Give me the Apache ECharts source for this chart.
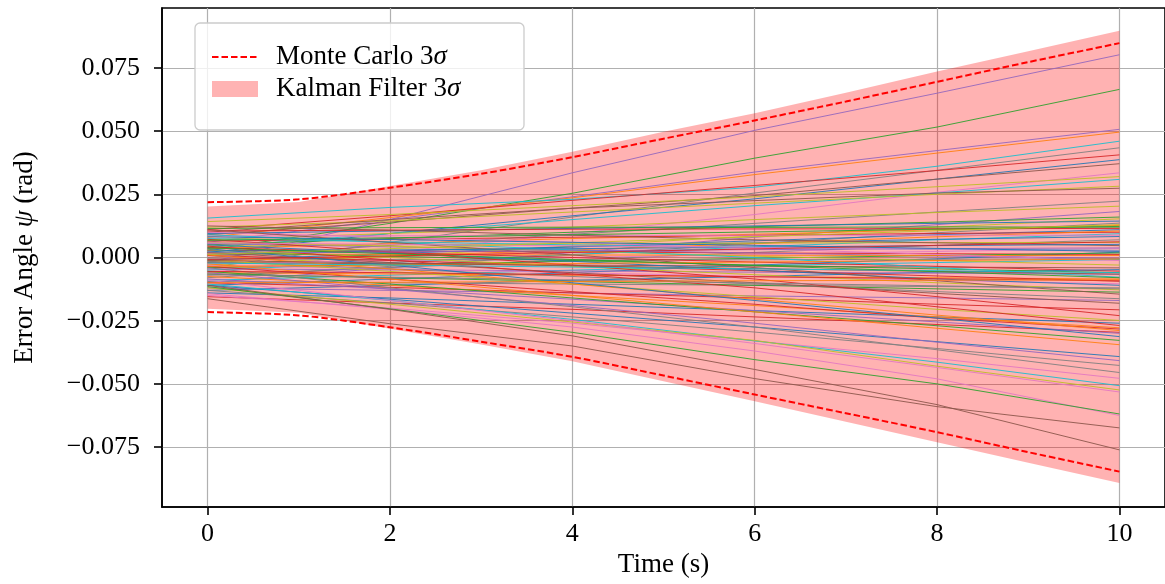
<!DOCTYPE html>
<html>
<head>
    <meta charset="UTF-8">
    <title>Error Angle Monte Carlo</title>
    <script src="https://cdn.jsdelivr.net/npm/echarts@6.0.0/dist/echarts.min.js"></script>
    <style>
        html, body { margin: 0; padding: 0; background: #fff; }
        #main { width: 1165px; height: 584px; }
    </style>
</head>
<body>
<div id="main"></div>
<script>
    // time samples of each Monte Carlo run (s)
    var runTimes = [0, 2, 4, 6, 8, 10];

    // error angle psi (rad) of every run, read at runTimes
    var mcRuns = [
        [-0.0020, 0.0150, 0.0335, 0.0503, 0.0650, 0.0802],
        [0.0030, 0.0135, 0.0254, 0.0393, 0.0516, 0.0665],
        [0.0060, 0.0150, 0.0240, 0.0338, 0.0423, 0.0507],
        [0.0080, 0.0158, 0.0236, 0.0328, 0.0413, 0.0496],
        [0.0156, 0.0198, 0.0230, 0.0278, 0.0361, 0.0460],
        [-0.0040, 0.0060, 0.0160, 0.0255, 0.0345, 0.0434],
        [0.0110, 0.0165, 0.0226, 0.0285, 0.0344, 0.0406],
        [0.0020, 0.0095, 0.0165, 0.0232, 0.0310, 0.0387],
        [0.0090, 0.0140, 0.0195, 0.0245, 0.0310, 0.0371],
        [-0.0060, 0.0020, 0.0095, 0.0170, 0.0258, 0.0335],
        [0.0142, 0.0170, 0.0205, 0.0240, 0.0280, 0.0320],
        [0.0040, 0.0095, 0.0150, 0.0205, 0.0255, 0.0309],
        [0.0120, 0.0145, 0.0180, 0.0215, 0.0250, 0.0282],
        [0.0100, 0.0150, 0.0195, 0.0225, 0.0255, 0.0274],
        [0.0000, 0.0048, 0.0092, 0.0135, 0.0180, 0.0223],
        [0.0070, 0.0095, 0.0120, 0.0150, 0.0178, 0.0203],
        [-0.0100, -0.0040, 0.0020, 0.0080, 0.0130, 0.0182],
        [0.0050, 0.0075, 0.0100, 0.0122, 0.0140, 0.0160],
        [-0.0030, 0.0005, 0.0045, 0.0085, 0.0120, 0.0153],
        [0.0095, 0.0105, 0.0115, 0.0125, 0.0135, 0.0144],
        [-0.0080, -0.0035, 0.0010, 0.0055, 0.0098, 0.0136],
        [0.0035, 0.0055, 0.0075, 0.0092, 0.0110, 0.0127],
        [0.0115, 0.0118, 0.0120, 0.0119, 0.0121, 0.0120],
        [-0.0010, 0.0015, 0.0042, 0.0066, 0.0090, 0.0110],
        [0.0065, 0.0072, 0.0080, 0.0088, 0.0095, 0.0100],
        [-0.0050, -0.0020, 0.0012, 0.0042, 0.0070, 0.0094],
        [0.0010, 0.0025, 0.0042, 0.0058, 0.0072, 0.0083],
        [0.0105, 0.0108, 0.0112, 0.0113, 0.0114, 0.0115],
        [-0.0015, 0.0005, 0.0030, 0.0055, 0.0082, 0.0105],
        [0.0085, 0.0086, 0.0087, 0.0088, 0.0088, 0.0088],
        [-0.0070, -0.0040, -0.0010, 0.0020, 0.0048, 0.0070],
        [0.0045, 0.0050, 0.0054, 0.0057, 0.0059, 0.0060],
        [0.0125, 0.0108, 0.0088, 0.0070, 0.0058, 0.0047],
        [-0.0025, -0.0012, 0.0000, 0.0012, 0.0024, 0.0035],
        [0.0075, 0.0062, 0.0050, 0.0040, 0.0033, 0.0028],
        [-0.0110, -0.0085, -0.0060, -0.0030, -0.0005, 0.0021],
        [0.0028, 0.0025, 0.0022, 0.0018, 0.0015, 0.0012],
        [0.0055, 0.0042, 0.0030, 0.0018, 0.0006, -0.0003],
        [-0.0040, -0.0028, -0.0015, -0.0003, 0.0008, 0.0018],
        [0.0015, 0.0012, 0.0010, 0.0009, 0.0008, 0.0008],
        [-0.0090, -0.0070, -0.0050, -0.0032, -0.0020, -0.0008],
        [0.0100, 0.0080, 0.0060, 0.0035, 0.0012, -0.0012],
        [-0.0005, -0.0008, -0.0010, -0.0009, -0.0007, -0.0005],
        [0.0060, 0.0045, 0.0025, 0.0005, -0.0012, -0.0030],
        [-0.0020, -0.0025, -0.0030, -0.0034, -0.0038, -0.0041],
        [0.0040, 0.0020, 0.0000, -0.0018, -0.0035, -0.0054],
        [-0.0130, -0.0110, -0.0090, -0.0075, -0.0058, -0.0048],
        [0.0020, 0.0005, -0.0012, -0.0030, -0.0045, -0.0060],
        [-0.0045, -0.0049, -0.0053, -0.0058, -0.0062, -0.0066],
        [0.0090, 0.0060, 0.0030, 0.0000, -0.0040, -0.0078],
        [-0.0060, -0.0065, -0.0070, -0.0076, -0.0080, -0.0085],
        [0.0008, -0.0012, -0.0032, -0.0052, -0.0073, -0.0094],
        [-0.0030, -0.0045, -0.0060, -0.0075, -0.0090, -0.0104],
        [0.0050, 0.0018, -0.0015, -0.0050, -0.0085, -0.0110],
        [-0.0095, -0.0100, -0.0105, -0.0110, -0.0115, -0.0120],
        [0.0030, 0.0000, -0.0035, -0.0068, -0.0100, -0.0128],
        [-0.0065, -0.0080, -0.0095, -0.0110, -0.0124, -0.0137],
        [0.0110, 0.0060, 0.0010, -0.0040, -0.0092, -0.0145],
        [-0.0015, -0.0045, -0.0075, -0.0105, -0.0135, -0.0163],
        [-0.0120, -0.0130, -0.0140, -0.0152, -0.0160, -0.0170],
        [0.0020, -0.0020, -0.0060, -0.0100, -0.0142, -0.0181],
        [-0.0100, -0.0118, -0.0140, -0.0160, -0.0185, -0.0207],
        [0.0072, 0.0022, -0.0030, -0.0085, -0.0155, -0.0230],
        [-0.0010, -0.0055, -0.0105, -0.0155, -0.0205, -0.0249],
        [-0.0140, -0.0160, -0.0185, -0.0210, -0.0235, -0.0260],
        [0.0045, -0.0010, -0.0065, -0.0120, -0.0195, -0.0269],
        [-0.0075, -0.0110, -0.0150, -0.0190, -0.0235, -0.0278],
        [-0.0035, -0.0085, -0.0135, -0.0185, -0.0240, -0.0283],
        [0.0010, -0.0045, -0.0105, -0.0165, -0.0228, -0.0289],
        [-0.0155, -0.0180, -0.0205, -0.0235, -0.0265, -0.0296],
        [-0.0085, -0.0125, -0.0165, -0.0210, -0.0255, -0.0300],
        [0.0035, -0.0030, -0.0100, -0.0170, -0.0240, -0.0313],
        [-0.0055, -0.0105, -0.0160, -0.0215, -0.0270, -0.0328],
        [-0.0025, -0.0085, -0.0150, -0.0215, -0.0280, -0.0345],
        [-0.0110, -0.0165, -0.0220, -0.0275, -0.0333, -0.0392],
        [-0.0060, -0.0125, -0.0190, -0.0260, -0.0335, -0.0408],
        [-0.0130, -0.0180, -0.0235, -0.0295, -0.0360, -0.0427],
        [-0.0040, -0.0120, -0.0195, -0.0275, -0.0365, -0.0455],
        [-0.0150, -0.0200, -0.0260, -0.0330, -0.0400, -0.0478],
        [-0.0105, -0.0170, -0.0245, -0.0330, -0.0414, -0.0507],
        [-0.0120, -0.0185, -0.0255, -0.0328, -0.0430, -0.0524],
        [-0.0090, -0.0170, -0.0250, -0.0340, -0.0435, -0.0532],
        [-0.0143, -0.0205, -0.0275, -0.0370, -0.0480, -0.0625],
        [-0.0115, -0.0203, -0.0296, -0.0404, -0.0500, -0.0619],
        [-0.0163, -0.0262, -0.0350, -0.0479, -0.0590, -0.0674],
        [-0.0110, -0.0205, -0.0310, -0.0443, -0.0582, -0.0761],
        [0.0025, 0.0030, 0.0035, 0.0041, 0.0047, 0.0052],
        [-0.0035, -0.0030, -0.0024, -0.0018, -0.0012, -0.0006],
        [0.0068, 0.0078, 0.0090, 0.0101, 0.0112, 0.0123],
        [-0.0055, -0.0060, -0.0068, -0.0076, -0.0084, -0.0092],
        [0.0018, 0.0022, 0.0027, 0.0031, 0.0035, 0.0038],
        [-0.0012, -0.0022, -0.0033, -0.0044, -0.0055, -0.0066],
        [0.0058, 0.0052, 0.0046, 0.0040, 0.0033, 0.0026],
        [-0.0068, -0.0078, -0.0089, -0.0101, -0.0112, -0.0124],
        [0.0012, 0.0035, 0.0058, 0.0082, 0.0106, 0.0130],
        [-0.0022, -0.0030, -0.0038, -0.0045, -0.0052, -0.0060],
        [0.0082, 0.0071, 0.0060, 0.0048, 0.0036, 0.0024],
        [-0.0100, -0.0098, -0.0095, -0.0092, -0.0090, -0.0088],
        [0.0038, 0.0015, -0.0008, -0.0032, -0.0056, -0.0080],
        [-0.0008, 0.0006, 0.0020, 0.0034, 0.0048, 0.0062]
    ];

    // colour (tab10 index) of each run
    var runColorIdx = [
        4, 2, 4, 1, 9, 7, 3, 0, 5, 6,
        8, 9, 8, 5, 7, 8, 4, 2, 8, 0,
        7, 1, 2, 0, 3, 9, 0, 3, 1, 6,
        7, 8, 5, 6, 9, 0, 3, 4, 2, 1,
        9, 6, 7, 8, 5, 3, 0, 2, 4, 9,
        1, 3, 6, 0, 7, 8, 2, 5, 7, 4,
        5, 3, 3, 8, 0, 3, 1, 3, 1, 3,
        4, 0, 2, 1, 0, 4, 7, 7, 6, 9,
        8, 6, 6, 2, 5, 5, 0, 1, 2, 3,
        4, 5, 6, 7, 8, 9, 0, 1, 2, 3
    ];
    var tab10 = ['#1f77b4', '#ff7f0e', '#2ca02c', '#d62728', '#9467bd',
                 '#8c564b', '#e377c2', '#7f7f7f', '#bcbd22', '#17becf'];

    // 3 sigma envelopes
    var sigmaTimes = [0, 1, 2, 3, 4, 5, 6, 7, 8, 9, 10];
    var mcUpper = [0.0219, 0.0230, 0.0276, 0.0331, 0.0397, 0.0470, 0.0542, 0.0617, 0.0695, 0.0773, 0.0848];
    var mcLower = [-0.0216, -0.0229, -0.0276, -0.0333, -0.0393, -0.0467, -0.0542, -0.0616, -0.0691, -0.0770, -0.0847];
    var kfUpper = [0.0202, 0.0220, 0.0283, 0.0345, 0.0418, 0.0497, 0.0571, 0.0652, 0.0736, 0.0816, 0.0897];
    var kfLower = [-0.0203, -0.0219, -0.0282, -0.0344, -0.0410, -0.0490, -0.0569, -0.0650, -0.0731, -0.0812, -0.0892];

    var xTicks = [0, 2, 4, 6, 8, 10];
    var yTicks = [-0.075, -0.05, -0.025, 0, 0.025, 0.05, 0.075];

    var FONT = 'Liberation Serif';
    var BAND = 'rgba(255,0,0,0.3)';

    function pairs(xs, ys) {
        var out = [];
        for (var i = 0; i < xs.length; i++) out.push([xs[i], ys[i]]);
        return out;
    }

    var series = [];

    // Kalman filter band, filled between kfLower and kfUpper
    series.push({
        name: 'Kalman Filter 3σ', type: 'custom', silent: true,
        itemStyle: { color: BAND },
        data: [[sigmaTimes[0], kfUpper[0]]],
        renderItem: function (params, api) {
            var pts = [], i;
            for (i = 0; i < sigmaTimes.length; i++) pts.push(api.coord([sigmaTimes[i], kfUpper[i]]));
            for (i = sigmaTimes.length - 1; i >= 0; i--) pts.push(api.coord([sigmaTimes[i], kfLower[i]]));
            return { type: 'polygon', shape: { points: pts }, style: { fill: BAND } };
        }
    });

    mcRuns.forEach(function (run, i) {
        series.push({
            name: 'run' + i, type: 'line', symbol: 'none', silent: true,
            lineStyle: { color: tab10[runColorIdx[i]], width: 0.9 },
            data: pairs(runTimes, run)
        });
    });

    [mcUpper, mcLower].forEach(function (arr) {
        series.push({
            name: 'Monte Carlo 3σ', type: 'line', symbol: 'none', silent: true, smooth: 0.3,
            itemStyle: { color: '#ff0000' },
            lineStyle: { color: '#ff0000', width: 2, type: [6.5, 3] },
            data: pairs(sigmaTimes, arr)
        });
    });

    var myChart = echarts.init(document.getElementById('main'));

    var option = {
        animation: false,
        backgroundColor: '#fff',
        grid: {
            left: 162, right: -2, top: 8, bottom: 77,
            show: true, borderColor: '#000', borderWidth: 1.6,
            backgroundColor: 'transparent'
        },
        legend: {
            orient: 'vertical', left: 211, top: 42, padding: 0,
            itemWidth: 46, itemHeight: 16, itemGap: 2,
            data: [
                { name: 'Monte Carlo 3σ', itemStyle: { color: 'rgba(0,0,0,0)', borderWidth: 0 } },
                { name: 'Kalman Filter 3σ', icon: 'rect', itemStyle: { color: '#ffb3b3' } }
            ],
            formatter: function (name) { return name.replace('3σ', '3{i|σ}'); },
            textStyle: {
                fontFamily: FONT, fontSize: 27, color: '#000', lineHeight: 30,
                padding: [0, 0, 0, 13],
                rich: { i: { fontFamily: FONT, fontSize: 27, fontStyle: 'italic', color: '#000' } }
            }
        },
        graphic: [{
            type: 'rect', z: 3,
            shape: { x: 195, y: 23, width: 329, height: 107, r: 5 },
            style: { fill: 'rgba(255,255,255,0.8)', stroke: '#cccccc', lineWidth: 1.3 }
        }],
        xAxis: {
            type: 'value', min: -0.5, max: 10.5,
            name: 'Time (s)', nameLocation: 'middle', nameGap: 43,
            nameTextStyle: { fontFamily: FONT, fontSize: 27, color: '#000' },
            axisLine: { show: true, onZero: false, lineStyle: { color: '#000', width: 1.6 } },
            axisTick: { show: true, length: 8, customValues: xTicks, lineStyle: { color: '#000', width: 1.6 } },
            axisLabel: {
                customValues: xTicks, margin: 14,
                fontFamily: FONT, fontSize: 26, color: '#000'
            },
            splitLine: { show: true, lineStyle: { color: '#b0b0b0', width: 1.2 } }
        },
        yAxis: {
            type: 'value', min: -0.0987, max: 0.0987,
            name: 'Error Angle {i|ψ} (rad)', nameLocation: 'middle', nameGap: 124, nameRotate: 90,
            nameTextStyle: {
                fontFamily: FONT, fontSize: 27, color: '#000',
                rich: { i: { fontFamily: FONT, fontSize: 27, fontStyle: 'italic', color: '#000' } }
            },
            axisLine: { show: true, onZero: false, lineStyle: { color: '#000', width: 1.6 } },
            axisTick: { show: true, length: 8, customValues: yTicks, lineStyle: { color: '#000', width: 1.6 } },
            axisLabel: {
                customValues: yTicks, margin: 22,
                fontFamily: FONT, fontSize: 26, color: '#000',
                formatter: function (v) {
                    var s = Math.abs(v).toFixed(3);
                    return v < -1e-9 ? '\u2212' + s : s;
                }
            },
            splitLine: { show: true, lineStyle: { color: '#b0b0b0', width: 1.2 } }
        },
        series: series
    };

    myChart.setOption(option);
</script>
</body>
</html>
